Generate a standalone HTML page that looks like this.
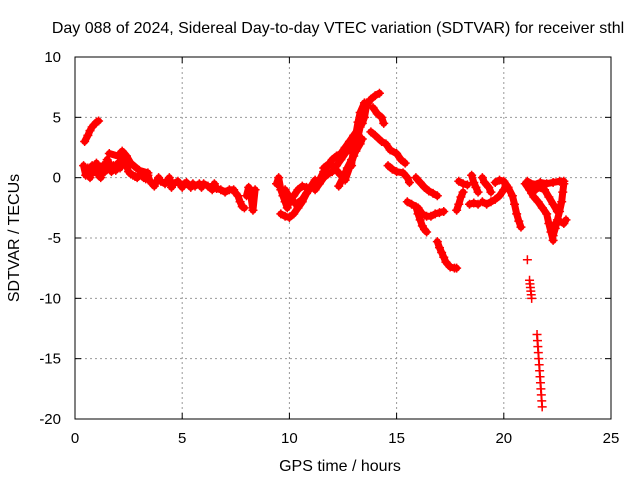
<!DOCTYPE html>
<html><head><meta charset="utf-8"><style>
body{margin:0;background:#fff}
svg{display:block;font-family:"Liberation Sans",sans-serif}
</style></head><body>
<svg id="c" width="640" height="480">
<text x="338" y="33" font-size="16" text-anchor="middle">Day 088 of 2024, Sidereal Day-to-day VTEC variation (SDTVAR) for receiver sthl</text>
<text x="340" y="471" font-size="16" text-anchor="middle">GPS time / hours</text>
<text transform="translate(19,238) rotate(-90)" font-size="16" text-anchor="middle">SDTVAR / TECUs</text>
<g id="grid"></g>
<g id="marks"></g>
<rect x="75" y="57" width="536" height="362" fill="none" stroke="#000" stroke-width="1"/>
</svg>
<script>
const xTicks=[0,5,10,15,20,25];
const yTicks=[10,5,0,-5,-10,-15,-20];
const tr1=[[0.45,3],[0.6,3.5],[0.7,3.9],[0.8,4.2],[0.9,4.4],[1.0,4.6],[1.1,4.7]];
const tr2=[[0.4,1],[0.5,0.2],[0.6,0.8],[0.7,0],[0.8,1],[0.9,0.5],[1.0,1.2],[1.1,0.2],[1.2,0],[1.3,1],[1.4,0.5],[1.5,1.5],[1.6,1.2],[1.7,0.5],[1.8,1],[1.9,0.6],[2.0,1.2],[2.1,0.8],[2.2,2],[2.3,1.5],[2.4,1],[2.5,0.5],[2.6,0.3],[2.7,0.2],[2.8,0.1],[2.9,0],[3.0,0.2],[3.1,0.3],[3.2,0],[3.3,-0.1],[3.4,0.2],[3.5,-0.3],[3.6,-0.5],[3.7,-0.7],[3.8,-0.3],[3.9,0],[4.0,-0.3],[4.2,-0.5],[4.4,0],[4.5,-0.8],[4.6,-0.5],[4.8,-0.3],[5.0,-0.8],[5.1,-0.5],[5.2,-0.4],[5.4,-0.8],[5.5,-0.5],[5.6,-0.7],[5.8,-0.5],[5.9,-0.8],[6.0,-0.5],[6.2,-0.7],[6.4,-1],[6.5,-0.5],[6.6,-0.9],[6.8,-1],[7.0,-1.2],[7.2,-1.0],[7.4,-1.0],[7.5,-1.3],[7.6,-1.5],[7.7,-2],[7.8,-2.4],[7.9,-2.5]];
const tr3=[[1.6,2],[2.0,1.8],[2.2,2.2],[2.4,1.8],[2.6,1.2],[3.0,0.6],[3.4,0.4]];
const tr4=[[8.0,-1.5],[8.1,-0.8],[8.2,-1.5],[8.3,-2.7],[8.4,-1]];
const tr5=[[9.4,-0.5],[9.5,0],[9.6,-1],[9.7,-1.5],[9.8,-2],[9.9,-2.5],[10.0,-2],[10.2,-1.5],[10.4,-1],[10.6,-0.7],[10.8,-0.8]];
const tr6=[[9.6,-3],[9.8,-3.2],[10.0,-3.3],[10.2,-3],[10.4,-2.5],[10.6,-2],[10.8,-1.3],[11.0,-0.8],[11.2,-0.5],[11.4,-0.2],[11.6,0.5],[11.8,1],[12.0,1.5],[12.2,1.8],[12.4,2],[12.6,2.5],[12.8,3],[13.0,3.5],[13.2,4],[13.4,4.5],[13.5,5],[13.6,6],[13.8,6.5],[14.0,6.8],[14.2,7]];
const tr7=[[11.2,-1],[11.4,-0.5],[11.6,0],[11.8,0.3],[12.0,0.5],[12.2,1],[12.4,1.5],[12.6,2],[12.8,2.5],[13.0,3],[13.2,4],[13.4,5],[13.6,6.2]];
const tr8=[[12.3,-0.7],[12.5,0],[12.7,0.8],[12.9,1.5],[13.1,2.2],[13.3,2.8],[13.4,3.2]];
const tr8b=[[12.6,-0.2],[12.8,0.8],[13.0,1.8],[13.1,2.6],[13.2,3.4],[13.3,4.2],[13.4,5]];
const tr8c=[[12.9,1],[13.0,2.6],[13.1,3.6],[13.2,4.6],[13.3,5.4],[13.5,6.2]];
const tr9=[[11.6,0.8],[11.8,1.1],[12.0,1.0],[12.2,0.6],[12.4,0.2]];
const tr9b=[[9.8,-1],[10.0,-1.6],[10.3,-2.2],[10.6,-1.8],[10.9,-1.0],[11.2,-0.2]];
const tr10=[[13.9,5.8],[14.1,5.3],[14.3,5],[14.4,4.5]];
const tr11=[[13.8,3.8],[14.0,3.5],[14.3,3],[14.5,2.8],[14.7,2.3],[15.0,2],[15.2,1.5],[15.4,1.2]];
const tr12=[[14.6,1],[14.8,0.7],[15.0,0.5],[15.3,0.4],[15.5,0],[15.6,-0.4]];
const tr13=[[15.9,0],[16.1,-0.4],[16.3,-0.8],[16.5,-1.1],[16.7,-1.3],[16.9,-1.5]];
const tr14=[[15.5,-2],[15.7,-2.2],[16.0,-2.5],[16.2,-3],[16.4,-3.2],[16.6,-3.2],[16.8,-3],[17.0,-2.9],[17.2,-2.8]];
const tr15=[[15.9,-2.4],[16.0,-3],[16.1,-3.5],[16.2,-4],[16.3,-4.3],[16.4,-4.5]];
const tr16=[[16.9,-5.3],[17.0,-5.8],[17.1,-6.2],[17.2,-6.6],[17.3,-7],[17.5,-7.4],[17.7,-7.5],[17.8,-7.5]];
const tr17=[[17.9,-0.3],[18.1,-0.5],[18.3,-0.6]];
const tr18=[[17.8,-2.7],[17.9,-2.2],[18.0,-1.6],[18.1,-1.2]];
const tr19=[[18.5,0.2],[18.6,-0.4],[18.7,-0.8],[18.8,-1.2]];
const tr20=[[18.4,-2.2],[18.6,-2.1],[18.8,-2.2]];
const tr21=[[19.0,0],[19.1,-0.4],[19.3,-0.8],[19.4,-1.2]];
const tr22=[[19.0,-2.0],[19.2,-2.2],[19.4,-2.0],[19.6,-1.8],[19.8,-1.5],[20.0,-1.0],[20.1,-0.6]];
const tr23=[[19.6,-0.4],[19.8,-0.2],[20.0,-0.3],[20.2,-0.8],[20.4,-1.5],[20.5,-2.2],[20.6,-3],[20.7,-3.6],[20.8,-4.1]];
const tr24=[[21.0,-0.5],[21.2,-1],[21.4,-1.6],[21.6,-2],[21.8,-2.5],[22.0,-3],[22.1,-3.8],[22.2,-4.5],[22.3,-5.2]];
const tr25=[[21.1,-0.3],[21.4,-0.6],[21.7,-0.4],[22.0,-0.5],[22.3,-0.4],[22.6,-0.3],[22.8,-0.3]];
const tr26=[[22.8,-0.5],[22.75,-1.2],[22.7,-2],[22.6,-2.8],[22.5,-3.5],[22.4,-4.2],[22.3,-4.8]];
const tr27=[[21.3,-1.3],[21.6,-0.8],[21.9,-1],[22.1,-1.6],[22.3,-2.2],[22.5,-2.8]];
const tr28=[[22.4,-3.8],[22.6,-3.6],[22.8,-3.8],[22.9,-3.5]];
const tr29=[[21.1,-6.8]];
const tr30=[[21.2,-8.5],[21.22,-8.8],[21.24,-9.1],[21.26,-9.4],[21.28,-9.7],[21.3,-10]];
const tr31=[[21.55,-13],[21.57,-13.5],[21.59,-14],[21.61,-14.5],[21.63,-15],[21.65,-15.5],[21.67,-16],[21.69,-16.5],[21.71,-17],[21.73,-17.5],[21.75,-18],[21.77,-18.5],[21.79,-19]];
const tracks=[tr1,tr2,tr3,tr4,tr5,tr6,tr7,tr8,tr8b,tr8c,tr9,tr9b,tr10,tr11,tr12,tr13,tr14,tr15,tr16,tr17,tr18,tr19,tr20,tr21,tr22,tr23,tr24,tr25,tr26,tr27,tr28,tr29,tr30,tr31];
const NS='http://www.w3.org/2000/svg';
const X=t=>75+(t/25)*536;
const Y=v=>57+(10-v)/30*362;
const grid=document.getElementById('grid');
function mk(tag,attrs,parent){const e=document.createElementNS(NS,tag);for(const k in attrs)e.setAttribute(k,attrs[k]);parent.appendChild(e);return e;}
xTicks.forEach(t=>{
  const x=X(t);
  if(t>0&&t<25){const l=mk('line',{x1:x,x2:x,y1:57,y2:419,stroke:'#999','stroke-dasharray':'2,3'},grid);
  
  }
  mk('line',{x1:x,x2:x,y1:419,y2:413,stroke:'#000'},grid);
  mk('line',{x1:x,x2:x,y1:57,y2:63,stroke:'#000'},grid);
  const tx=mk('text',{x:x,y:443,'font-size':15,'text-anchor':'middle'},grid);
  tx.textContent=t;
  
  
});
yTicks.forEach(v=>{
  const y=Y(v);
  if(v<10&&v>-20){const l=mk('line',{x1:75,x2:611,y1:y,y2:y,stroke:'#999','stroke-dasharray':'2,3'},grid);
  
  }
  mk('line',{x1:75,x2:81,y1:y,y2:y,stroke:'#000'},grid);
  mk('line',{x1:605,x2:611,y1:y,y2:y,stroke:'#000'},grid);
  const tx=mk('text',{x:61,y:y+5,'font-size':15,'text-anchor':'end'},grid);
  tx.textContent=v;
  
  
});
const marks=document.getElementById('marks');
tracks.forEach(tr=>{
  if(tr.length>1){
    const p=mk('polyline',{points:tr.map(d=>X(d[0])+','+Y(d[1])).join(' '),fill:'none',stroke:'#f00','stroke-width':(tr===tr30||tr===tr31)?2:7,'stroke-linejoin':'round','stroke-linecap':'round'},marks);
    
    
  }
  tr.forEach(d=>{
    const x=X(d[0]),y=Y(d[1]);
    const m=mk('path',{d:`M${x-4.5},${y}H${x+4.5}M${x},${y-4.5}V${y+4.5}`,stroke:'#f00','stroke-width':1.5},marks);
    
    
  });
});
</script>
</body></html>
